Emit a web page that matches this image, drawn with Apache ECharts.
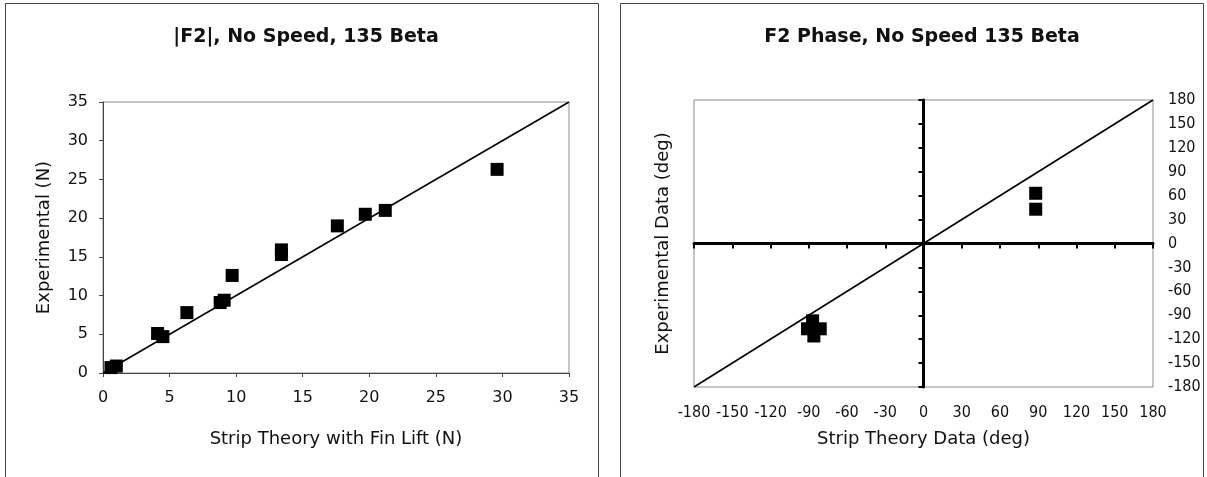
<!DOCTYPE html>
<html>
<head>
<meta charset="utf-8">
<title>F2 magnitude and phase, no speed, 135 beta</title>
<script src="https://cdn.jsdelivr.net/npm/echarts@6/dist/echarts.min.js"></script>
<style>
  html, body { margin: 0; padding: 0; background: #fff; }
  #chart { width: 1207px; height: 477px; }
</style>
</head>
<body>
<div id="chart"></div>
<script>
// |F2| magnitude: strip theory with fin lift vs experiment (N)
const magStrip = [0.6, 1.0, 4.1, 4.5, 6.3, 8.8, 9.1, 9.7, 13.4, 13.4, 17.6, 19.7, 21.2, 29.6];
const magExp   = [0.7, 0.9, 5.1, 4.7, 7.8, 9.1, 9.4, 12.6, 15.9, 15.3, 19.0, 20.5, 21.0, 26.3];
// y = x reference line for the magnitude plot
const magRefX = [0, 35];
const magRefY = [0, 35];

// F2 phase: strip theory vs experiment (deg)
const phaseStrip = [88, 88, -87, -91, -81, -86];
const phaseExp   = [63, 43, -97, -107, -107, -116];
// y = x reference line for the phase plot
const phaseRefX = [-180, 180];
const phaseRefY = [-180, 180];

// axis ranges and tick steps
const magMin = 0, magMax = 35, magStep = 5;
const phaseMin = -180, phaseMax = 180, phaseStep = 30;

const titles = ['|F2|, No Speed, 135 Beta', 'F2 Phase, No Speed 135 Beta'];
const axisNames = {
  magX: 'Strip Theory with Fin Lift (N)',
  magY: 'Experimental (N)',
  phaseX: 'Strip Theory Data (deg)',
  phaseY: 'Experimental Data (deg)'
};

const pairs = (xs, ys) => xs.map((x, i) => [x, ys[i]]);

const SANS = "'DejaVu Sans', sans-serif";
const NARROW = "'Liberation Sans Narrow', 'DejaVu Sans Condensed', 'Liberation Sans', sans-serif";
const INK = '#111';
const FRAME = '#8c8c8c';

const chart = echarts.init(document.getElementById('chart'), null, { renderer: 'canvas' });

const hidden = { show: false };

const option = {
  animation: false,
  backgroundColor: '#fff',
  title: [
    {
      text: titles[0], left: 301, top: 21, textAlign: 'center',
      textStyle: { fontFamily: SANS, fontWeight: 'bold', fontSize: 19, color: INK, lineHeight: 22 }
    },
    {
      text: titles[1], left: 917, top: 21, textAlign: 'center',
      textStyle: { fontFamily: SANS, fontWeight: 'bold', fontSize: 19, color: INK, lineHeight: 22 }
    }
  ],
  graphic: [
    { type: 'rect', shape: { x: 5.5, y: 3.5, width: 593, height: 480 },
      style: { fill: 'none', stroke: '#444', lineWidth: 1 }, silent: true },
    { type: 'rect', shape: { x: 620.5, y: 3.5, width: 583, height: 480 },
      style: { fill: 'none', stroke: '#444', lineWidth: 1 }, silent: true }
  ],
  grid: [
    { left: 103, top: 102, width: 466, height: 271, show: true,
      borderColor: FRAME, borderWidth: 1, backgroundColor: 'transparent', containLabel: false },
    { left: 694, top: 100, width: 459, height: 287, show: true,
      borderColor: FRAME, borderWidth: 1, backgroundColor: 'transparent', containLabel: false }
  ],
  xAxis: [
    {
      gridIndex: 0, type: 'value', min: magMin, max: magMax, interval: magStep,
      axisLine: { show: true, onZero: false, lineStyle: { color: '#444', width: 1 } },
      axisTick: { show: true, length: 4, lineStyle: { color: '#444' } },
      axisLabel: { margin: 17, fontFamily: SANS, fontSize: 16, color: INK },
      splitLine: hidden,
      name: axisNames.magX, nameLocation: 'middle', nameGap: 57,
      nameTextStyle: { fontFamily: SANS, fontSize: 18, color: INK }
    },
    {
      // tick labels along the bottom edge of the phase plot
      gridIndex: 1, type: 'value', position: 'bottom', min: phaseMin, max: phaseMax, interval: phaseStep,
      axisLine: { show: false, onZero: false },
      axisTick: hidden,
      axisLabel: { margin: 18, fontFamily: NARROW, fontSize: 16, color: INK },
      splitLine: hidden,
      name: axisNames.phaseX, nameLocation: 'middle', nameGap: 43,
      nameTextStyle: { fontFamily: SANS, fontSize: 18, color: INK }
    },
    {
      // heavy horizontal axis through y = 0
      gridIndex: 1, type: 'value', position: 'bottom', min: phaseMin, max: phaseMax, interval: phaseStep,
      axisLine: { show: true, onZero: true, lineStyle: { color: '#000', width: 3 } },
      axisTick: { show: true, length: 5, lineStyle: { color: '#000', width: 2 } },
      axisLabel: hidden,
      splitLine: hidden
    }
  ],
  yAxis: [
    {
      gridIndex: 0, type: 'value', min: magMin, max: magMax, interval: magStep,
      axisLine: { show: true, onZero: false, lineStyle: { color: '#444', width: 1 } },
      axisTick: { show: true, length: 4, lineStyle: { color: '#444' } },
      axisLabel: { margin: 15, fontFamily: SANS, fontSize: 16, color: INK },
      splitLine: hidden,
      name: axisNames.magY, nameLocation: 'middle', nameGap: 50,
      nameTextStyle: { fontFamily: SANS, fontSize: 18, color: INK }
    },
    {
      // tick labels along the right edge of the phase plot
      gridIndex: 1, type: 'value', position: 'right', min: phaseMin, max: phaseMax, interval: phaseStep,
      axisLine: { show: false, onZero: false },
      axisTick: hidden,
      axisLabel: { margin: 15, fontFamily: NARROW, fontSize: 16, color: INK },
      splitLine: hidden
    },
    {
      // heavy vertical axis through x = 0
      gridIndex: 1, type: 'value', position: 'left', min: phaseMin, max: phaseMax, interval: phaseStep,
      axisLine: { show: true, onZero: true, lineStyle: { color: '#000', width: 3 } },
      axisTick: { show: true, length: 5, lineStyle: { color: '#000', width: 2 } },
      axisLabel: hidden,
      splitLine: hidden
    },
    {
      // carries the vertical axis title on the left edge of the phase plot
      gridIndex: 1, type: 'value', position: 'left', min: phaseMin, max: phaseMax, interval: phaseStep,
      axisLine: { show: false, onZero: false },
      axisTick: hidden, axisLabel: hidden, splitLine: hidden,
      name: axisNames.phaseY, nameLocation: 'middle', nameGap: 22,
      nameTextStyle: { fontFamily: SANS, fontSize: 18, color: INK }
    }
  ],
  series: [
    {
      type: 'line', xAxisIndex: 0, yAxisIndex: 0,
      data: pairs(magRefX, magRefY), showSymbol: false, silent: true, z: 2,
      lineStyle: { color: '#000', width: 1.6 }
    },
    {
      type: 'scatter', xAxisIndex: 0, yAxisIndex: 0,
      data: pairs(magStrip, magExp), symbol: 'rect', symbolSize: 13, z: 3,
      itemStyle: { color: '#000', opacity: 1 }
    },
    {
      type: 'line', xAxisIndex: 1, yAxisIndex: 1,
      data: pairs(phaseRefX, phaseRefY), showSymbol: false, silent: true, z: 2,
      lineStyle: { color: '#000', width: 1.6 }
    },
    {
      type: 'scatter', xAxisIndex: 1, yAxisIndex: 1,
      data: pairs(phaseStrip, phaseExp), symbol: 'rect', symbolSize: 13, z: 3,
      itemStyle: { color: '#000', opacity: 1 }
    }
  ]
};

chart.setOption(option);
</script>
</body>
</html>
